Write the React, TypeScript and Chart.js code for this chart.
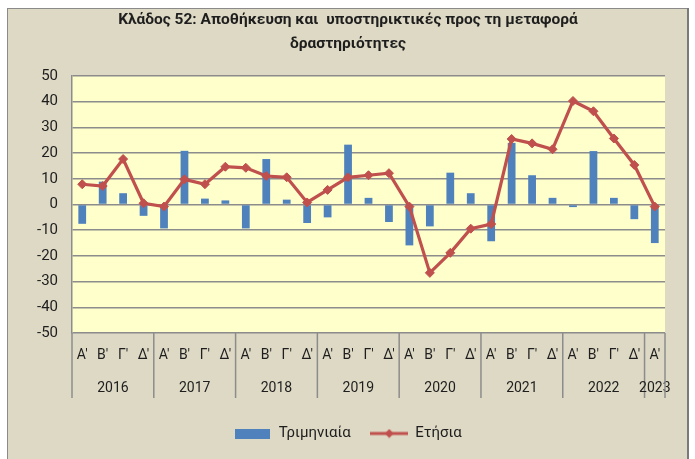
import React, { useEffect, useRef } from 'react';
import { Chart, registerables } from 'chart.js';

Chart.register(...registerables);

const quarterLabels = [
  "Α'", "Β'", "Γ'", "Δ'",
  "Α'", "Β'", "Γ'", "Δ'",
  "Α'", "Β'", "Γ'", "Δ'",
  "Α'", "Β'", "Γ'", "Δ'",
  "Α'", "Β'", "Γ'", "Δ'",
  "Α'", "Β'", "Γ'", "Δ'",
  "Α'", "Β'", "Γ'", "Δ'",
  "Α'",
];
const yearLabels = ['2016', '2017', '2018', '2019', '2020', '2021', '2022', '2023'];
const yearSpans = [4, 4, 4, 4, 4, 4, 4, 1];

const quarterly = [
  -7.5, 8.9, 4.4, -4.4,
  -9.3, 20.9, 2.3, 1.6,
  -9.3, 17.7, 1.9, -7.2,
  -5.0, 23.3, 2.6, -6.8,
  -15.9, -8.5, 12.4, 4.4,
  -14.3, 24.0, 11.4, 2.6,
  -1.0, 20.8, 2.6, -5.7,
  -15.0,
];
const annual = [
  7.9, 7.2, 17.7, 0.5,
  -0.8, 9.8, 7.9, 14.7,
  14.3, 11.1, 10.6, 0.8,
  5.7, 10.6, 11.4, 12.2,
  -0.8, -26.6, -18.8, -9.4,
  -7.6, 25.5, 23.8, 21.5,
  40.3, 36.3, 25.7, 15.4,
  -0.8,
];
const titleLines = ['Κλάδος 52: Αποθήκευση και  υποστηρικτικές προς τη μεταφορά', 'δραστηριότητες'];
const seriesNames = ['Τριμηνιαία', 'Ετήσια'];
const yMin = -50;
const yMax = 50;
const yStep = 10;

const FONT = 'Roboto, "Noto Sans", sans-serif';
const BLUE = '#4F81BD';
const RED = '#C0504D';
const GRID = '#8c8c8c';
const TEXT = '#1e1e1e';

export default function App() {
  const ref = useRef<HTMLCanvasElement>(null);

  useEffect(() => {
    const canvas = ref.current;
    if (!canvas) return;

    const barSwatch = document.createElement('canvas');
    barSwatch.width = 35;
    barSwatch.height = 10;
    {
      const c = barSwatch.getContext('2d')!;
      c.fillStyle = BLUE;
      c.fillRect(0, 0, 35, 10);
    }
    const lineSwatch = document.createElement('canvas');
    lineSwatch.width = 38;
    lineSwatch.height = 10;
    {
      const c = lineSwatch.getContext('2d')!;
      c.strokeStyle = RED;
      c.lineWidth = 3;
      c.beginPath();
      c.moveTo(0, 5);
      c.lineTo(38, 5);
      c.stroke();
      c.fillStyle = RED;
      c.beginPath();
      c.moveTo(19, 0.5);
      c.lineTo(23.5, 5);
      c.lineTo(19, 9.5);
      c.lineTo(14.5, 5);
      c.closePath();
      c.fill();
    }

    const framePlugin = {
      id: 'frame',
      beforeDraw(chart: any) {
        const { ctx, width, height, chartArea } = chart;
        ctx.save();
        ctx.fillStyle = '#ffffff';
        ctx.fillRect(0, 0, width, height);
        ctx.fillStyle = '#DDD9C4';
        ctx.fillRect(7, 8, 680, 470);
        ctx.strokeStyle = '#8a8a8a';
        ctx.lineWidth = 1;
        ctx.strokeRect(7.5, 8.5, 680, 470);
        ctx.strokeStyle = '#7a7a7a';
        ctx.lineWidth = 2;
        ctx.beginPath();
        ctx.moveTo(688, 8);
        ctx.lineTo(688, height);
        ctx.stroke();
        ctx.fillStyle = '#FFFFCC';
        ctx.fillRect(chartArea.left, chartArea.top, chartArea.right - chartArea.left, chartArea.bottom - chartArea.top);
        ctx.restore();
      },
    };

    const yearPlugin = {
      id: 'years',
      afterDraw(chart: any) {
        const xs = chart.scales.x;
        const ctx = chart.ctx;
        const half = (xs.getPixelForValue(1) - xs.getPixelForValue(0)) / 2;
        const top = chart.chartArea.bottom;
        const bottom = top + 65;
        ctx.save();
        ctx.strokeStyle = GRID;
        ctx.lineWidth = 1.5;
        ctx.fillStyle = TEXT;
        ctx.font = `14px ${FONT}`;
        ctx.textAlign = 'center';
        ctx.textBaseline = 'middle';
        const sep = (px: number) => {
          ctx.beginPath();
          ctx.moveTo(px, top);
          ctx.lineTo(px, bottom);
          ctx.stroke();
        };
        let start = 0;
        yearSpans.forEach((span, g) => {
          const first = start;
          const last = start + span - 1;
          sep(xs.getPixelForValue(first) - half);
          const cx = (xs.getPixelForValue(first) + xs.getPixelForValue(last)) / 2;
          ctx.fillText(yearLabels[g], cx, top + 55);
          start += span;
        });
        sep(xs.getPixelForValue(start - 1) + half);
        ctx.restore();
      },
    };

    const chart = new Chart(canvas, {
      type: 'bar',
      data: {
        labels: quarterLabels,
        datasets: [
          {
            type: 'bar',
            label: seriesNames[0],
            data: quarterly,
            backgroundColor: BLUE,
            borderWidth: 0,
            barPercentage: 0.38,
            categoryPercentage: 1,
            order: 2,
          },
          {
            type: 'line',
            label: seriesNames[1],
            data: annual,
            borderColor: RED,
            backgroundColor: RED,
            borderWidth: 3.2,
            pointStyle: 'rectRot',
            pointRadius: 4.5,
            pointBorderWidth: 1,
            pointBackgroundColor: RED,
            pointBorderColor: RED,
            tension: 0,
            order: 1,
          } as any,
        ],
      },
      options: {
        animation: false,
        responsive: false,
        layout: { padding: { left: 31, right: 30, top: 8, bottom: 8 } },
        plugins: {
          title: {
            display: true,
            text: titleLines,
            color: TEXT,
            font: { family: FONT, size: 15.5, weight: 'bold', lineHeight: 1.55 },
            padding: { top: 0, bottom: 20 },
          },
          legend: {
            position: 'bottom',
            labels: {
              usePointStyle: true,
              pointStyleWidth: 37,
              boxHeight: 10,
              padding: 20,
              color: TEXT,
              font: { family: FONT, size: 15 },
              generateLabels: (ch: any) => {
                const items = Chart.defaults.plugins.legend.labels.generateLabels(ch);
                items.sort((a: any, b: any) => a.datasetIndex - b.datasetIndex);
                return items.map((it: any) => ({
                  ...it,
                  pointStyle: it.datasetIndex === 0 ? barSwatch : lineSwatch,
                }));
              },
            },
          },
          tooltip: { enabled: false },
        },
        scales: {
          x: {
            grid: { display: false },
            border: { display: false },
            ticks: {
              color: TEXT,
              font: { family: FONT, size: 14 },
              padding: 6,
              autoSkip: false,
              maxRotation: 0,
            },
            afterFit: (s: any) => {
              s.height = 73;
            },
          },
          y: {
            min: yMin,
            max: yMax,
            ticks: {
              stepSize: yStep,
              color: TEXT,
              font: { family: FONT, size: 15 },
              padding: 14,
            },
            grid: { color: GRID, lineWidth: 1.5, drawTicks: false },
            border: { display: true, color: GRID, width: 1.5 },
            afterFit: (s: any) => {
              s.width = 41;
            },
          },
        },
      },
      plugins: [framePlugin, yearPlugin],
    } as any);

    return () => chart.destroy();
  }, []);

  return (
    <div style={{ position: 'absolute', left: 0, top: 0, width: 695, height: 459 }}>
      <canvas ref={ref} width={695} height={459} style={{ display: 'block', width: 695, height: 459 }} />
    </div>
  );
}
